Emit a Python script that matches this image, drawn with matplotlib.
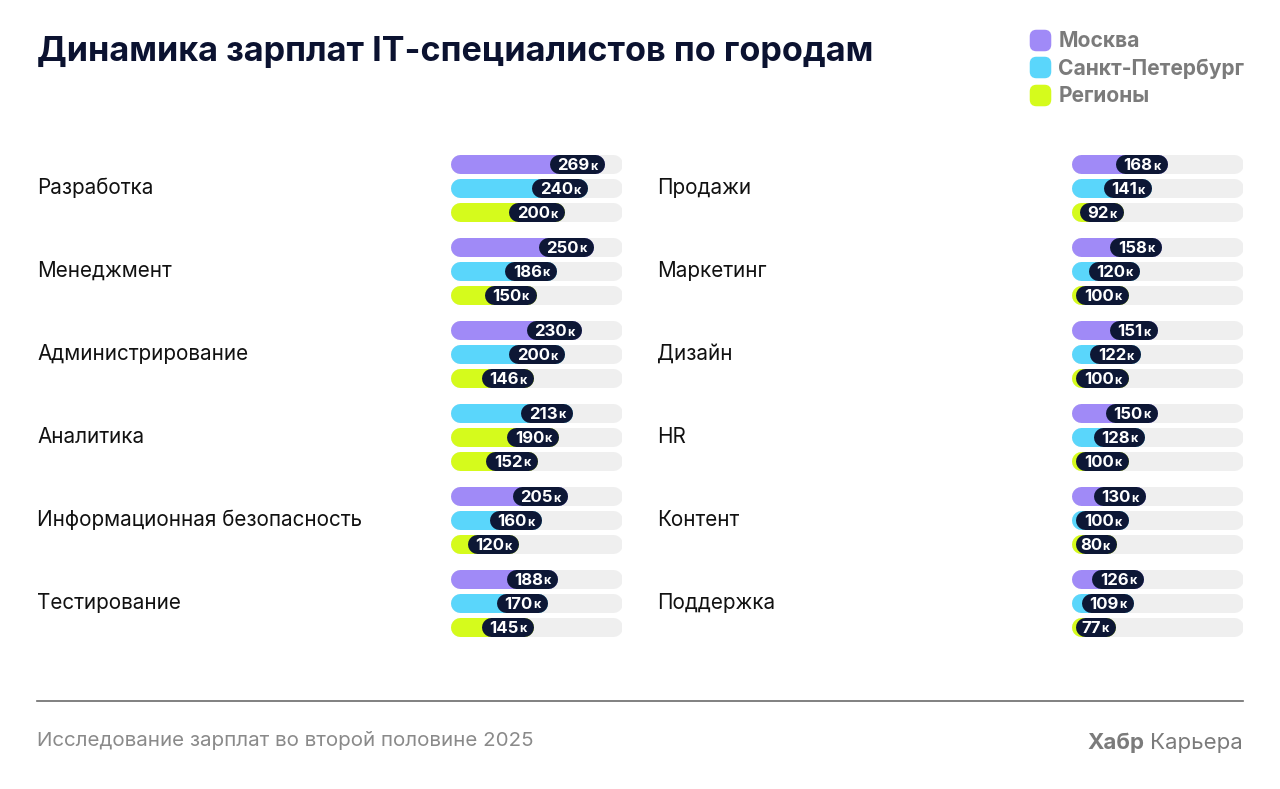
import matplotlib.pyplot as plt
from matplotlib.lines import Line2D
from matplotlib.patches import FancyBboxPatch
import matplotlib.transforms as mtransforms

plt.rcParams['font.family'] = ['Inter', 'DejaVu Sans']

# data
series = ['Москва', 'Санкт-Петербург', 'Регионы']
left_cats = ['Разработка', 'Менеджмент', 'Администрирование', 'Аналитика',
             'Информационная безопасность', 'Тестирование']
left_vals = [[269, 240, 200], [250, 186, 150], [230, 200, 146],
             [213, 190, 152], [205, 160, 120], [188, 170, 145]]
right_cats = ['Продажи', 'Маркетинг', 'Дизайн', 'HR', 'Контент', 'Поддержка']
right_vals = [[168, 141, 92], [158, 120, 100], [151, 122, 100],
              [150, 128, 100], [130, 100, 80], [126, 109, 77]]
# the original colours the "Аналитика" bars this way
color_override = {'Аналитика': [1, 2, 2]}

colors = ['#a08af7', '#5ad6fb', '#d5fb1c']
track_color = '#efefef'
pill_color = '#0d1735'
scale_max = 300

W, H = 1280, 789
fig = plt.figure(figsize=(W / 100, H / 100), dpi=100)
fig.patch.set_facecolor('white')

bar_px = 19
lw = bar_px * 72 / 100
group_px = 83
step_px = 24


def panel(x0, x1, cats, vals, label_x):
    ax = fig.add_axes([x0 / W, 1 - 644.5 / H, (x1 - x0) / W, (644.5 - 146.5) / H])
    ax.set_xlim(0, scale_max)
    ax.set_ylim(len(cats) - 0.5, -0.5)
    ax.axis('off')
    ppu = (x1 - x0) / scale_max
    r = bar_px / 2 / ppu
    trans = mtransforms.blended_transform_factory(fig.transFigure, ax.transData)
    renderer = fig.canvas.get_renderer()
    for i, (cat, row) in enumerate(zip(cats, vals)):
        ax.text(label_x / W, i, cat, transform=trans, ha='left', va='center',
                fontsize=14.9, color='#111111')
        cidx = color_override.get(cat, [0, 1, 2])
        for j, v in enumerate(row):
            y = i + (j - 1) * step_px / group_px
            ax.plot([r, scale_max - r], [y, y], lw=lw, color=track_color,
                    solid_capstyle='round', zorder=1)
            ax.plot([r, max(v - r, r)], [y, y], lw=lw, color=colors[cidx[j]],
                    solid_capstyle='round', zorder=2)
            tk = ax.annotate('к', (v, y), xytext=(-7, -2.5), textcoords='offset pixels',
                             ha='right', va='center', fontsize=9, fontweight='bold',
                             color='white', zorder=4)
            wk = tk.get_window_extent(renderer).width
            tn = ax.annotate(str(v), (v, y), xytext=(-7 - wk - 0.5, -1.5),
                             textcoords='offset pixels', ha='right', va='center',
                             fontsize=12, fontweight='bold', color='white', zorder=4)
            wn = tn.get_window_extent(renderer).width
            pill_w = wk + wn + 0.5 + 15
            # keep a sliver of the coloured bar visible for short bars
            start = max(v - pill_w / ppu, 4 / ppu)
            ax.plot([start + r, v - r], [y, y], lw=lw, color=pill_color,
                    solid_capstyle='round', zorder=3)
    return ax


panel(450, 622, left_cats, left_vals, 37)
panel(1071, 1243, right_cats, right_vals, 657)

fig.text(37 / W, 1 - 52 / H, 'Динамика зарплат IT-специалистов по городам',
         ha='left', va='center', fontsize=24.6, fontweight='bold', color='#0b1230')

# legend with rounded squares
rsq = FancyBboxPatch((-0.5, -0.5), 1, 1,
                     boxstyle='round,pad=0,rounding_size=0.3').get_path()
handles = [Line2D([], [], marker=rsq, markersize=14.5, linestyle='none',
                  markerfacecolor=c, markeredgecolor=c) for c in colors]
leg = fig.legend(handles, series, loc='upper left',
                 bbox_to_anchor=(1009 / W, 1 - 12 / H), frameon=False,
                 handletextpad=0.25, labelspacing=0.36, handlelength=1.2,
                 prop={'size': 15.1, 'weight': 'bold'})
for t in leg.get_texts():
    t.set_color('#7b7b7b')

fig.add_artist(Line2D([37 / W, 1243 / W], [1 - 701 / H] * 2,
                      transform=fig.transFigure, color='#6b6b6b', lw=1.2))

fig.text(37 / W, 1 - 741 / H, 'Исследование зарплат во второй половине 2025',
         ha='left', va='center', fontsize=14.8, color='#8a8a8a')
tk2 = fig.text(1243 / W, 1 - 743 / H, 'Карьера', ha='right', va='center',
               fontsize=16, color='#7b7b7b')
fig.canvas.draw()
wk2 = tk2.get_window_extent().width
fig.text((1243 - wk2 - 6) / W, 1 - 743 / H, 'Хабр', ha='right', va='center',
         fontsize=16, fontweight='bold', color='#7b7b7b')

fig.savefig('out.png', dpi=100, facecolor='white')
